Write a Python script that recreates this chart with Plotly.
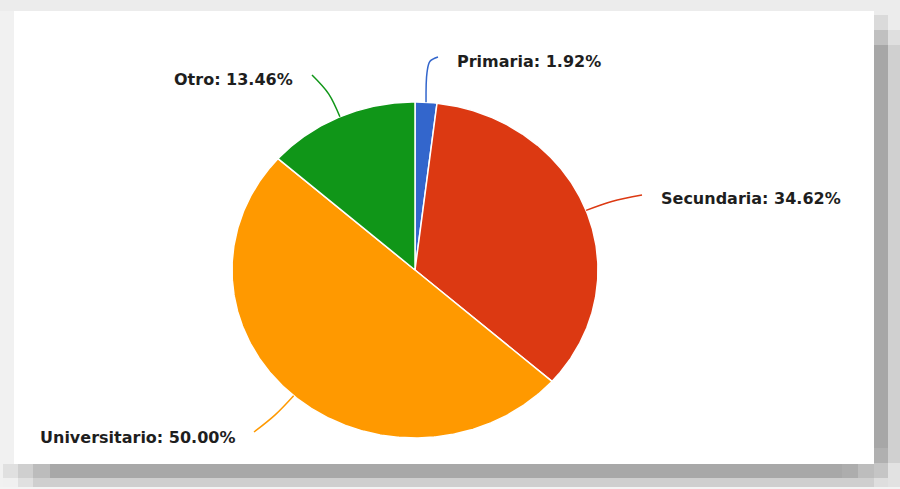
import math
import plotly.graph_objects as go

# Nivel de estudios (porcentaje de respuestas)
categories = ["Primaria", "Secundaria", "Universitario", "Otro"]
percentages = [1.92, 34.62, 50.00, 13.46]
colors = ["#3366cc", "#dc3912", "#ff9900", "#109618"]

# Pie geometry in page pixels (x right, y down)
CX, CY = 415, 270
RX, RY = 183, 168
W, H = 900, 489


def edge(angle_deg, scale=1.0):
    a = math.radians(angle_deg)
    return CX + RX * scale * math.sin(a), CY - RY * scale * math.cos(a)


fig = go.Figure()

total = sum(percentages)
start = 0.0
mids = []
for name, val, col in zip(categories, percentages, colors):
    sweep = 360.0 * val / total
    n = max(3, int(sweep * 2))
    xs, ys = [CX], [CY]
    for i in range(n + 1):
        x, y = edge(start + sweep * i / n)
        xs.append(x)
        ys.append(y)
    xs.append(CX)
    ys.append(CY)
    fig.add_trace(go.Scatter(
        x=xs, y=ys, mode="lines", fill="toself", fillcolor=col,
        line=dict(color="white", width=1.5), hoverinfo="text",
        text=f"{name}: {val:.2f}%", name=name,
    ))
    mids.append(start + sweep / 2)
    start += sweep

# Connector end points and which side the label sits on
label_ends = {
    "Primaria": ((438, 57), "left"),
    "Secundaria": ((642, 195), "left"),
    "Universitario": ((254, 432), "right"),
    "Otro": ((312, 75), "right"),
}
label_y = {"Primaria": 61, "Secundaria": 198, "Universitario": 437, "Otro": 79}

annotations = []
for name, val, col, mid in zip(categories, percentages, colors, mids):
    (ex, ey), side = label_ends[name]
    x0, y0 = edge(mid)
    x1, y1 = edge(mid, 1.15)
    if name == "Primaria":
        px = [x0, x0 + 1, x0 + 4, ex]
        py = [y0, y0 - 30, y0 - 41, ey]
    else:
        px = [x0, x1, ex]
        py = [y0, y1, ey]
    fig.add_trace(go.Scatter(
        x=px, y=py, mode="lines", line=dict(color=col, width=1.5, shape="spline"),
        hoverinfo="skip",
    ))
    tx = ex + 17 if side == "left" else ex - 17
    annotations.append(dict(
        x=tx, y=label_y[name], xref="x", yref="y", showarrow=False,
        text=f"{name}: {val:.2f}%", xanchor=side, yanchor="middle",
        font=dict(family="DejaVu Sans", size=16, color="#1e1e1e", weight="bold"),
    ))

# Card with drop shadow
shapes = []


def rect(x0, y0, x1, y1, color):
    shapes.append(dict(type="rect", xref="x", yref="y", x0=x0, y0=y0, x1=x1, y1=y1,
                       fillcolor=color, line=dict(width=0), layer="below"))


rect(0, 11, 14, 487, "#f1f1f1")
rect(874, 15, 888, 30, "#dadada")
rect(874, 30, 888, 45, "#c0c0c0")
rect(874, 45, 888, 448, "#a7a7a7")
rect(874, 448, 888, 463, "#b0b0b0")
rect(874, 463, 888, 478, "#c5c5c5")
rect(874, 478, 888, 487, "#dedede")
rect(888, 15, 900, 30, "#ececec")
rect(888, 30, 900, 45, "#dfdfdf")
rect(888, 45, 900, 463, "#d0d0d0")
rect(888, 463, 900, 487, "#e2e2e2")
rect(3, 464, 18, 478, "#e0e0e0")
rect(18, 464, 33, 478, "#cfcfcf")
rect(33, 464, 50, 478, "#bcbcbc")
rect(50, 464, 842, 478, "#a8a8a8")
rect(842, 464, 858, 478, "#adadad")
rect(858, 464, 874, 478, "#bdbdbd")
rect(3, 478, 18, 487, "#f0f0f0")
rect(18, 478, 33, 487, "#e0e0e0")
rect(33, 478, 874, 487, "#cfcfcf")
rect(0, 487, 900, 489, "#f4f4f4")
rect(14, 11, 874, 464, "#ffffff")

fig.update_layout(
    width=W, height=H, margin=dict(l=0, r=0, t=0, b=0),
    paper_bgcolor="#ececec", plot_bgcolor="#ececec",
    showlegend=False,
    xaxis=dict(range=[0, W], visible=False, fixedrange=True),
    yaxis=dict(range=[H, 0], visible=False, fixedrange=True),
    shapes=shapes, annotations=annotations,
)

fig.write_html("out.html")
